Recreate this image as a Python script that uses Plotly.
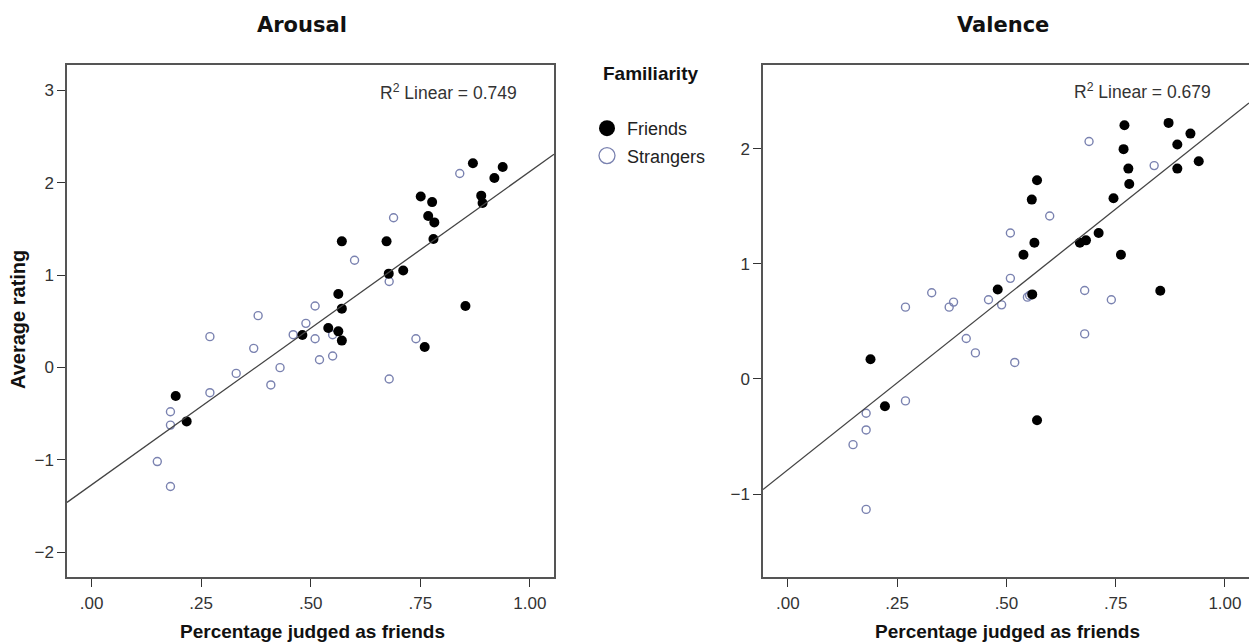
import numpy as np
import plotly.graph_objects as go

# ---------------- data ----------------
# Arousal panel
arousal_friends_x = [0.870, 0.938, 0.919, 0.889, 0.892, 0.751, 0.777, 0.768, 0.782, 0.780,
                     0.571, 0.673, 0.678, 0.711, 0.853, 0.563, 0.571, 0.540, 0.563, 0.571,
                     0.481, 0.760, 0.192, 0.217]
arousal_friends_y = [2.21, 2.17, 2.05, 1.86, 1.78, 1.85, 1.79, 1.64, 1.57, 1.39,
                     1.365, 1.365, 1.015, 1.05, 0.665, 0.795, 0.636, 0.427, 0.39, 0.29,
                     0.35, 0.22, -0.31, -0.585]
arousal_strangers_x = [0.840, 0.689, 0.600, 0.679, 0.510, 0.380, 0.489, 0.460, 0.510, 0.550,
                       0.270, 0.370, 0.520, 0.550, 0.740, 0.679, 0.430, 0.330, 0.409, 0.270,
                       0.180, 0.180, 0.150, 0.180]
arousal_strangers_y = [2.10, 1.62, 1.16, 0.93, 0.665, 0.56, 0.477, 0.354, 0.31, 0.354,
                       0.333, 0.206, 0.083, 0.123, 0.31, -0.126, -0.003, -0.065, -0.19, -0.274,
                       -0.48, -0.625, -1.02, -1.29]

# Valence panel
valence_friends_x = [0.871, 0.770, 0.921, 0.891, 0.768, 0.940, 0.779, 0.891, 0.570, 0.781,
                     0.558, 0.745, 0.711, 0.682, 0.668, 0.564, 0.539, 0.762, 0.480, 0.559,
                     0.852, 0.189, 0.222, 0.570]
valence_friends_y = [2.223, 2.203, 2.13, 2.035, 1.995, 1.89, 1.826, 1.826, 1.725, 1.693,
                     1.557, 1.569, 1.267, 1.203, 1.183, 1.183, 1.078, 1.078, 0.777, 0.734,
                     0.765, 0.171, -0.237, -0.359]
valence_strangers_x = [0.689, 0.838, 0.599, 0.509, 0.509, 0.329, 0.679, 0.379, 0.369, 0.459,
                       0.489, 0.548, 0.553, 0.740, 0.269, 0.679, 0.408, 0.429, 0.519, 0.269,
                       0.179, 0.179, 0.149, 0.179]
valence_strangers_y = [2.061, 1.852, 1.415, 1.267, 0.873, 0.748, 0.768, 0.667, 0.623, 0.687,
                       0.643, 0.710, 0.725, 0.687, 0.623, 0.391, 0.351, 0.226, 0.143, -0.191,
                       -0.298, -0.443, -0.571, -1.133]

x_tickvals = [0, 0.25, 0.5, 0.75, 1.0]
x_ticktext = [".00", ".25", ".50", ".75", "1.00"]
arousal_yticks = [-2, -1, 0, 1, 2, 3]
valence_yticks = [-1, 0, 1, 2]
r2_labels = ["R<sup>2</sup> Linear = 0.749", "R<sup>2</sup> Linear = 0.679"]
panel_titles = ["Arousal", "Valence"]
x_title = "Percentage judged as friends"
y_title = "Average rating"
legend_title = "Familiarity"
group_names = ["Friends", "Strangers"]

# ---------------- layout geometry ----------------
W, H = 1249, 643
def px(xp):
    return xp / W
def py(yp):
    return 1 - yp / H

x_range_a = [-0.056, 1.055]
y_range_a = [-2.27, 3.28]
x_range_v = [-0.057, 1.055]
y_range_v = [-1.72, 2.73]

FRIEND_COLOR = "black"
STRANGER_COLOR = "#7a82b0"
TICK_FONT = dict(family="Liberation Sans Narrow, Liberation Sans, Arial", size=17, color="#333333")

fig = go.Figure()

def add_panel(fx, fy, sx, sy, xa, ya, xr):
    fig.add_trace(go.Scatter(x=sx, y=sy, mode="markers", xaxis=xa, yaxis=ya, showlegend=False,
                             marker=dict(symbol="circle-open", size=8, color=STRANGER_COLOR,
                                         line=dict(width=1.4, color=STRANGER_COLOR))))
    fig.add_trace(go.Scatter(x=fx, y=fy, mode="markers", xaxis=xa, yaxis=ya, showlegend=False,
                             marker=dict(symbol="circle", size=10, color=FRIEND_COLOR)))
    allx = np.array(fx + sx)
    ally = np.array(fy + sy)
    slope, intercept = np.polyfit(allx, ally, 1)
    lx = np.array(xr)
    fig.add_trace(go.Scatter(x=lx, y=intercept + slope * lx, mode="lines", xaxis=xa, yaxis=ya,
                             showlegend=False, line=dict(color="#444444", width=1.3),
                             hoverinfo="skip"))

add_panel(arousal_friends_x, arousal_friends_y, arousal_strangers_x, arousal_strangers_y,
          "x", "y", x_range_a)
add_panel(valence_friends_x, valence_friends_y, valence_strangers_x, valence_strangers_y,
          "x2", "y2", x_range_v)

# legend entries
fig.add_trace(go.Scatter(x=[None], y=[None], mode="markers", name=group_names[0],
                         legendgroup="a",
                         marker=dict(symbol="circle", size=18, color=FRIEND_COLOR)))
fig.add_trace(go.Scatter(x=[None], y=[None], mode="markers", name=group_names[1],
                         legendgroup="b",
                         marker=dict(symbol="circle-open", size=18, color=STRANGER_COLOR,
                                     line=dict(width=1.3, color=STRANGER_COLOR))))

axis_common = dict(showgrid=False, zeroline=False, showline=True, linecolor="#555555",
                   linewidth=1.5, ticks="outside", ticklen=8, tickcolor="#333333",
                   tickwidth=1.2, tickfont=TICK_FONT)

ydom = [py(577), py(64.5)]
fig.update_layout(
    width=W, height=H,
    margin=dict(l=0, r=0, t=0, b=0),
    paper_bgcolor="white", plot_bgcolor="white",
    xaxis=dict(domain=[px(67), px(554)], range=x_range_a, tickvals=x_tickvals,
               ticktext=x_ticktext, mirror=True, anchor="y", ticklabelstandoff=2, **axis_common),
    yaxis=dict(domain=ydom, range=y_range_a, tickvals=arousal_yticks,
               mirror=True, anchor="x", **axis_common),
    xaxis2=dict(domain=[px(763), 1.0], range=x_range_v, tickvals=x_tickvals,
                ticktext=x_ticktext, mirror=True, anchor="y2", ticklabelstandoff=2, **axis_common),
    yaxis2=dict(domain=ydom, range=y_range_v, tickvals=valence_yticks,
                mirror=False, anchor="x2", **axis_common),
    showlegend=True,
    legend=dict(x=px(587), y=py(110), xanchor="left", yanchor="top",
                bgcolor="rgba(0,0,0,0)", traceorder="grouped", tracegroupgap=1,
                font=dict(family="Liberation Sans, Arial", size=18, color="#222222")),
)

title_font = dict(family="DejaVu Sans, Verdana", size=21, color="#111111")
axis_title_font = dict(family="Liberation Sans, Arial", size=19, color="#111111")
ann = [
    dict(text="<b>%s</b>" % panel_titles[0], x=px(302), y=py(25), font=title_font),
    dict(text="<b>%s</b>" % panel_titles[1], x=px(1003), y=py(25), font=title_font),
    dict(text="<b>%s</b>" % x_title, x=px(312), y=py(631), font=axis_title_font),
    dict(text="<b>%s</b>" % x_title, x=px(1007), y=py(631), font=axis_title_font),
    dict(text="<b>%s</b>" % y_title, x=px(18), y=py(320), textangle=-90,
         font=dict(family="Liberation Sans, Arial", size=20, color="#111111")),
    dict(text="<b>%s</b>" % legend_title, x=px(650), y=py(73),
         font=dict(family="Liberation Sans, Arial", size=19, color="#111111")),
    dict(text=r2_labels[0], x=px(519), y=py(92), xanchor="right",
         font=dict(family="Liberation Sans, Arial", size=17.5, color="#333333")),
    dict(text=r2_labels[1], x=px(1213), y=py(91), xanchor="right",
         font=dict(family="Liberation Sans, Arial", size=17.5, color="#333333")),
]
for a in ann:
    a.setdefault("xanchor", "center")
    a.update(xref="paper", yref="paper", yanchor="middle", showarrow=False)
    fig.add_annotation(**a)

fig.write_html("out.html",
               config={"displayModeBar": False},
               post_script="document.body.style.margin='0px';document.body.style.overflow='hidden';")
